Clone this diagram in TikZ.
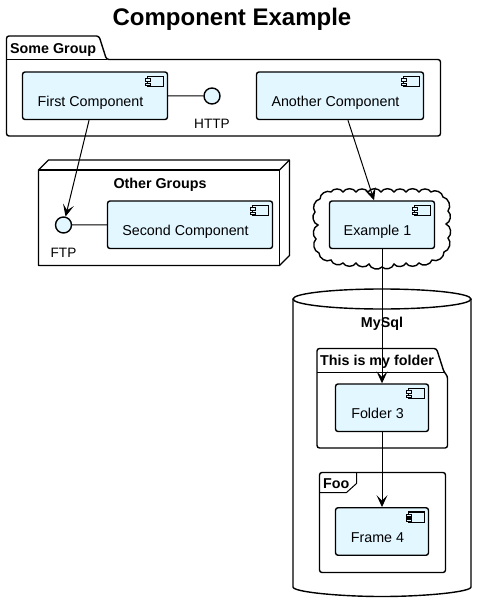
\documentclass[tikz,border=0pt]{standalone}
\usepackage{fontspec}
\setmainfont{Liberation Sans}
\usepackage{tikz}
\usetikzlibrary{arrows.meta}
\definecolor{compblue}{HTML}{E2F7FF}
\tikzset{
    box/.style={draw=black,line width=1.4pt,rounded corners=2.5pt},
    comp/.style={box,fill=compblue,inner sep=0pt,text height=22pt,text depth=0pt,font=\fontsize{14.3}{16}\selectfont,execute at end node=\hspace{9pt}},
    iface/.style={circle,draw=black,line width=1.4pt,fill=compblue,minimum size=16pt,inner sep=0pt},
    plain/.style={inner sep=0pt,font=\fontsize{13.6}{16}\selectfont},
    head/.style={inner sep=0pt,font=\fontsize{14.3}{16}\bfseries\selectfont},
    link/.style={line width=1pt,-{Stealth[length=12pt,width=11pt,inset=5.5pt]}},
    wire/.style={line width=1pt}
}
\begin{document}
\begin{tikzpicture}[x=1pt,y=-1pt]
    \useasboundingbox (0,0) rectangle (477,602);

    \node[inner sep=0pt,font=\fontsize{24}{28}\bfseries\selectfont] (title) at (232,19) {Component Example};

    % Some Group
    \draw[box] (6.5,59.5) -- (6.5,36) -- (99,36) -- (106.5,59.5) -- (440.5,59.5) -- (440.5,136) -- (6.5,136) -- cycle;
    \draw[box,sharp corners,line width=1pt] (6.5,59.5) -- (106.5,59.5);
    \node[head,anchor=west] (somegroup) at (10,49.5) {Some Group};
    \node[comp,minimum width=145pt,minimum height=47.5pt] (first) at (95,95.75) {First Component};
    \node[comp,minimum width=167pt,minimum height=47.5pt] (another) at (340,95.75) {Another Component};
    \node[iface] (http) at (212,96) {};
    \node[plain] (httplabel) at (212,124) {HTTP};

    % Other Groups
    \draw[box,sharp corners,line join=round] (38.5,170) -- (48.5,160) -- (289.5,160) -- (289.5,255.5) -- (279.5,265.5) -- (38.5,265.5) -- cycle;
    \draw[box,sharp corners,line join=round] (38.5,170) -- (279.5,170) -- (279.5,265.5);
    \draw[box,sharp corners] (279.5,170) -- (289.5,160);
    \node[head] (othergroups) at (160,184.5) {Other Groups};
    \node[comp,minimum width=165pt,minimum height=47.5pt] (second) at (190,224.75) {Second Component};
    \node[iface] (ftp) at (63.5,225) {};
    \node[plain] (ftplabel) at (63.5,253) {FTP};

    % cloud round Example 1
    \draw[box,sharp corners,fill=white] (320,199)
        \foreach \px/\py in {331/192,343/192,356/192,368/192,381/192,394/192,406/192,419/192,431/192,443/197} {
            to[bend left=60] (\px,\py)}
        \foreach \px/\py in {448/211,446/224,448/238,444/252} {
            to[bend left=60] (\px,\py)}
        \foreach \px/\py in {432/260,419/263,406/263,394/264,382/267,369/264,356/263,343/263,331/260,319/253} {
            to[bend left=60] (\px,\py)}
        \foreach \px/\py in {316/239,318/225,315/212} {
            to[bend left=60] (\px,\py)}
        to[bend left=60] (320,199);
    \node[comp,minimum width=105pt,minimum height=47.5pt] (example) at (382,224.75) {Example 1};

    % MySql
    \draw[box,sharp corners] (293,299) -- (293,587) .. controls (293,592) and (340,596.5) .. (382,596.5) .. controls (424,596.5) and (471,592) .. (471,587) -- (471,299);
    \draw[box,sharp corners] (382,299) ellipse [x radius=89,y radius=10];
    \node[head] (mysql) at (382,323.5) {MySql};

    % folder
    \draw[box] (317,372) -- (317,348.5) -- (436.5,348.5) -- (444,372) -- (447.5,376) -- (447.5,448) -- (317,448) -- cycle;
    \draw[box,sharp corners,line width=1pt] (317,372) -- (444,372);
    \node[head,anchor=west] (folderlabel) at (320,361.5) {This is my folder};
    \node[comp,minimum width=93pt,minimum height=47.5pt] (folder) at (382,407.75) {Folder 3};

    % frame
    \draw[box] (319.5,472.5) rectangle (445.5,572.5);
    \draw[box,sharp corners,line width=1pt] (356.5,472.5) -- (356.5,483.5) -- (346.5,492.5) -- (319.5,492.5);
    \node[head,anchor=west] (foolabel) at (323,484) {Foo};
    \node[comp,minimum width=93pt,minimum height=47.5pt] (frame) at (382,531.5) {Frame 4};

    % the little icons
    \foreach \c in {first,another,second,example,folder,frame} {
        \draw[line width=1.2pt,fill=compblue] ([shift={(-20.5,5)}]\c.north east) rectangle ([shift={(-4.5,15.5)}]\c.north east);
        \draw[line width=1.2pt,fill=compblue] ([shift={(-22.5,7.5)}]\c.north east) rectangle ([shift={(-17.5,10)}]\c.north east);
        \draw[line width=1.2pt,fill=compblue] ([shift={(-22.5,12)}]\c.north east) rectangle ([shift={(-17.5,14.5)}]\c.north east);
    }

    \draw[wire] (first) -- (http);
    \draw[wire] (second) -- (ftp);
    \draw[link] (first) -- (ftp);
    \draw[link] (another) -- (example);
    \draw[link] (example) -- (folder);
    \draw[link] (folder) -- (frame);
\end{tikzpicture}
\end{document}
